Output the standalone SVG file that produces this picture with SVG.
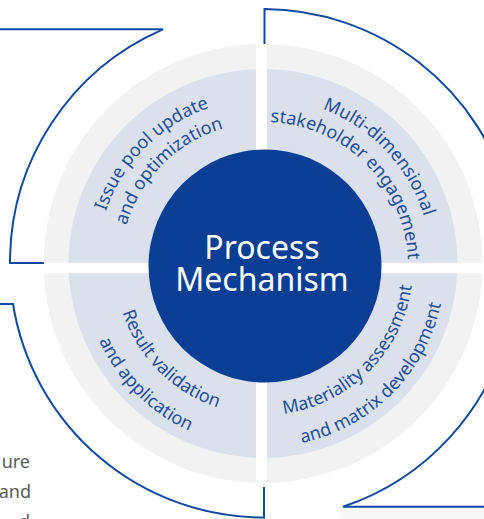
<svg xmlns="http://www.w3.org/2000/svg" width="484" height="519" viewBox="0 0 484 519">
<style>
.gray{fill:#f2f2f2}
.lb{fill:#dbe1ec}
.lbl{font-family:"Noto Sans","Open Sans",sans-serif;font-size:18px;fill:#1f4e9b}
.brk{fill:none;stroke:#0f4aa0;stroke-width:2}
.side{font-family:"Noto Sans","Open Sans",sans-serif;font-size:18px;fill:#5a5a5a}
.ctr{font-family:"Noto Sans","Open Sans",sans-serif;font-size:32px;fill:#ffffff}
</style>
<defs>
<path id="tlo" d="M126.79,362.07 A167.5,167.5 0 0 1 360.07,128.79"/>
<path id="tli" d="M146.45,348.31 A143.5,143.5 0 0 1 346.31,148.45"/>
<path id="tro" d="M167.93,128.79 A167.5,167.5 0 0 1 401.21,362.07"/>
<path id="tri" d="M181.40,148.04 A144,144 0 0 1 381.96,348.60"/>
<path id="bri" d="M178.54,388.05 A149,149 0 0 0 386.05,180.54"/>
<path id="bro" d="M160.18,414.27 A181,181 0 0 0 412.27,162.18"/>
<path id="bli" d="M141.95,180.54 A149,149 0 0 0 349.46,388.05"/>
<path id="blo" d="M115.73,162.18 A181,181 0 0 0 367.82,414.27"/>
</defs>
<rect width="484" height="519" fill="#ffffff"/>
<rect x="340" y="508" width="144" height="11" fill="#f7f7f7"/>
<g id="connectors">
<path class="brk" d="M0,29.3 L163,29.3 A254,254 0 0 0 10,263 L44,263"/>
<path class="brk" d="M264.5,44 L264.5,9 A254.5,254.5 0 0 1 509.4,200"/>
<path class="brk" d="M484,506.7 L343,506.7 A254,254 0 0 0 509.8,323.5"/>
<path class="brk" d="M264,487 L264,517.5 A254,254 0 0 1 13,304 L0,304"/>
</g>
<g id="side-text">
<text class="side" x="30" y="468" text-anchor="end">ure</text>
<text class="side" x="31" y="498" text-anchor="end">and</text>
<text class="side" x="30" y="528" text-anchor="end">d</text>
</g>
<g id="q-issue-pool">
<path class="gray" d="M256,262.7 L256,44.11 A219.5,219.5 0 0 0 43.5,262.7 Z"/>
<path class="lb" d="M256,262.7 L256,69.13 A194.5,194.5 0 0 0 68.5,262.7 Z"/>
<text class="lbl"><textPath href="#tlo" startOffset="50%" text-anchor="middle">Issue pool update</textPath></text>
<text class="lbl"><textPath href="#tli" startOffset="50%" text-anchor="middle">and optimization</textPath></text>
</g>
<g id="q-stakeholder">
<path class="gray" d="M267,262.7 L267,44.04 A219.5,219.5 0 0 1 482.5,262.7 Z"/>
<path class="lb" d="M267,262.7 L267,69.04 A194.5,194.5 0 0 1 457.5,262.7 Z"/>
<text class="lbl"><textPath href="#tro" startOffset="51%" text-anchor="middle">Multi-dimensional</textPath></text>
<text class="lbl"><textPath href="#tri" startOffset="50%" text-anchor="middle">stakeholder engagement</textPath></text>
</g>
<g id="q-materiality">
<path class="gray" d="M267,273.3 L482.28,273.3 A219.5,219.5 0 0 1 267,482.96 Z"/>
<path class="lb" d="M267,273.3 L457.25,273.3 A194.5,194.5 0 0 1 267,457.96 Z"/>
<text class="lbl"><textPath href="#bri" startOffset="50%" text-anchor="middle">Materiality assessment</textPath></text>
<text class="lbl"><textPath href="#bro" startOffset="50%" text-anchor="middle">and matrix development</textPath></text>
</g>
<g id="q-result">
<path class="gray" d="M256,273.3 L256,482.89 A219.5,219.5 0 0 1 43.72,273.3 Z"/>
<path class="lb" d="M256,273.3 L256,457.87 A194.5,194.5 0 0 1 68.75,273.3 Z"/>
<text class="lbl"><textPath href="#bli" startOffset="50%" text-anchor="middle">Result validation</textPath></text>
<text class="lbl"><textPath href="#blo" startOffset="50%" text-anchor="middle">and application</textPath></text>
</g>
<g id="center">
<circle cx="265" cy="266" r="116.5" fill="#0b3f95"/>
<text class="ctr" x="262" y="259" text-anchor="middle">Process</text>
<text class="ctr" x="262" y="291" text-anchor="middle">Mechanism</text>
</g>
</svg>
